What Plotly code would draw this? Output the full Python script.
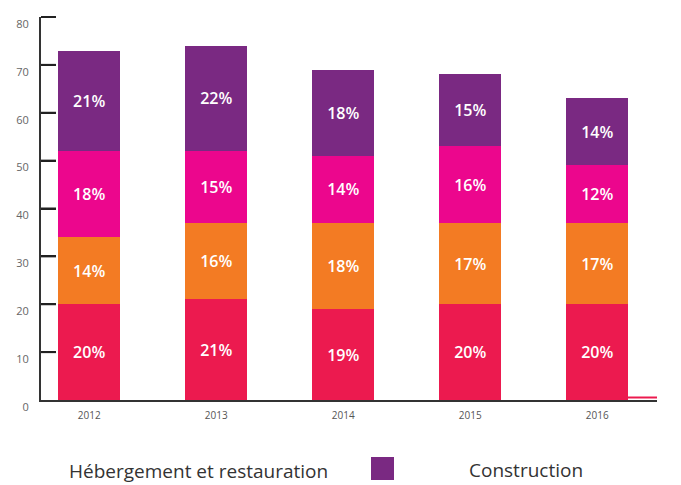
import plotly.graph_objects as go

years = ["2012", "2013", "2014", "2015", "2016"]
red_vals = [20, 21, 19, 20, 20]
orange_vals = [14, 16, 18, 17, 17]
pink_vals = [18, 15, 14, 16, 12]
purple_vals = [21, 22, 18, 15, 14]
y_ticks = [0, 10, 20, 30, 40, 50, 60, 70, 80]
Y_MAX = 80

series = [
    ("Série 1", red_vals, "#EC1A4F"),
    ("Série 2", orange_vals, "#F37B23"),
    ("Série 3", pink_vals, "#EC068D"),
    ("Construction", purple_vals, "#7A2982"),
]

fig = go.Figure()
for name, vals, color in series:
    fig.add_trace(go.Bar(
        x=years, y=vals, name=name,
        marker=dict(color=color, line=dict(width=0)),
        width=0.49,
        texttemplate="%{y}%",
        textposition="inside",
        insidetextanchor="middle",
        textfont=dict(color="white", size=16, family="Open Sans", weight=600),
        showlegend=False,
    ))

# page body has an 8px margin; compensate so the plot lands where the reference has it
PW, PH = 616, 383

shapes = [
    dict(type="rect", xref="paper", yref="paper",
         x0=(371 - 41) / PW, x1=(394 - 41) / PW,
         y0=(400 - 480) / PH, y1=(400 - 457) / PH,
         fillcolor="#7A2982", line=dict(width=0)),
    dict(type="line", xref="paper", yref="paper",
         x0=(625 - 41) / PW, x1=(657 - 41) / PW, y0=2.5 / PH, y1=2.5 / PH,
         line=dict(color="#EC1A4F", width=2)),
]
for v in y_ticks[1:]:
    shapes.append(dict(type="line", xref="paper", yref="paper", layer="above",
                       x0=0, x1=15 / PW, y0=v / Y_MAX, y1=v / Y_MAX,
                       line=dict(color="#222222", width=2)))

fig.update_layout(
    barmode="stack",
    width=673, height=477,
    margin=dict(l=33, r=24, t=9, b=85),
    plot_bgcolor="white", paper_bgcolor="white",
    xaxis=dict(
        range=[-0.38, 4.47], automargin=False,
        showline=True, linecolor="#333333", linewidth=2,
        ticks="", showgrid=False, zeroline=False,
        ticklabelstandoff=5,
        tickfont=dict(size=10, color="#555555", family="Open Sans"),
    ),
    yaxis=dict(
        range=[0, Y_MAX], tickvals=y_ticks,
        automargin=False,
        showline=True, linecolor="#333333", linewidth=2,
        ticks="inside", ticklen=15, tickwidth=2, tickcolor="#222222",
        showgrid=False, zeroline=False,
        ticklabelshift=7, ticklabelstandoff=8,
        tickfont=dict(size=11, color="#666666", family="Open Sans"),
    ),
    annotations=[
        dict(text="Hébergement et restauration", xref="paper", yref="paper",
             x=(67 - 41) / PW, y=(400 - 471) / PH, xanchor="left", yanchor="middle",
             showarrow=False, font=dict(size=19, color="#333333", family="Open Sans")),
        dict(text="Construction", xref="paper", yref="paper",
             x=(467 - 41) / PW, y=(400 - 470) / PH, xanchor="left", yanchor="middle",
             showarrow=False, font=dict(size=19, color="#333333", family="Open Sans")),
    ],
    shapes=shapes,
)

fig.write_html("out.html")
